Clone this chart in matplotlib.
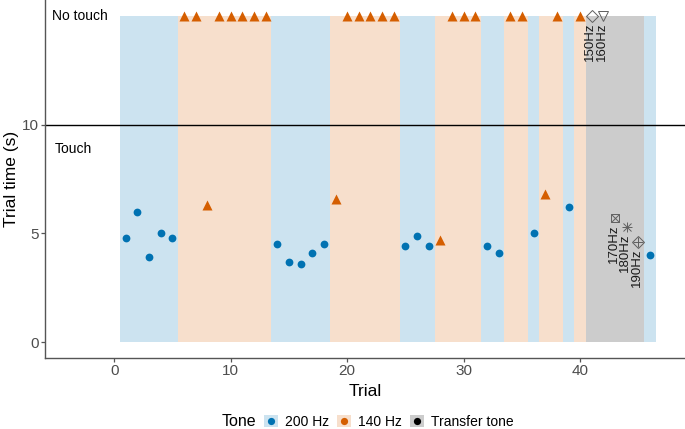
"""Trial time per trial, shaded by tone, with transfer-tone probes."""
import matplotlib
matplotlib.use("Agg")
import matplotlib.pyplot as plt
from matplotlib.lines import Line2D
from matplotlib.patches import Patch

plt.rcParams["font.family"] = ["Liberation Sans", "DejaVu Sans"]

# tone per trial: "200", "140" or "T" (transfer tone)
TONE = (["200"] * 5 + ["140"] * 8 + ["200"] * 5 + ["140"] * 6 + ["200"] * 3
        + ["140"] * 4 + ["200"] * 2 + ["140"] * 2 + ["200"] + ["140"] * 2
        + ["200"] + ["140"] + ["T"] * 5 + ["200"])
TRIALS = list(range(1, len(TONE) + 1))
# trial time in s, None = no touch
TIME = [4.8, 6.0, 3.9, 5.0, 4.8,
        None, None, 6.3, None, None, None, None, None,
        4.5, 3.7, 3.6, 4.1, 4.5,
        6.6, None, None, None, None, None,
        4.4, 4.9, 4.4,
        4.7, None, None, None,
        4.4, 4.1,
        None, None,
        5.0,
        6.8, None,
        6.2,
        None,
        None, None, 5.7, 5.3, 4.6,
        4.0]
TRANSFER_LABELS = ["150Hz", "160Hz", "170Hz", "180Hz", "190Hz"]

NO_TOUCH = 15
CUTOFF = 10
BAND = {"200": "#cce3f0", "140": "#f7dfcc", "T": "#cccccc"}
POINT = {"200": "#0072b2", "140": "#d55e00", "T": "black"}
MARK_GRAY = "#606060"

fig = plt.figure(figsize=(6.85, 4.29), dpi=100)
ax = fig.add_axes([45 / 685, 71 / 429, 640 / 685, 358 / 429])

# background bands
ax.bar(TRIALS, NO_TOUCH, width=1.0, bottom=0,
       color=[BAND[t] for t in TONE], linewidth=0, zorder=0)
ax.axhline(CUTOFF, color="black", lw=1.0, zorder=2)

ys = [NO_TOUCH if v is None else v for v in TIME]
for tone, marker, ms in [("200", "o", 5.6), ("140", "^", 7)]:
    xs = [x for x, t in zip(TRIALS, TONE) if t == tone]
    yy = [y for y, t in zip(ys, TONE) if t == tone]
    ax.plot(xs, yy, ls="none", marker=marker, ms=ms, color=POINT[tone],
            mec="none", zorder=3)

# transfer tones: R shapes 5..9 built from overlaid markers
shapes = [[("D", 6)], [("v", 7)], [("s", 6), ("x", 6)],
          [("+", 7), ("x", 6)], [("D", 6.5), ("+", 6.5)]]
tx = [x for x, t in zip(TRIALS, TONE) if t == "T"]
ty = [y for y, t in zip(ys, TONE) if t == "T"]
for x, y, lab, parts in zip(tx, ty, TRANSFER_LABELS, shapes):
    for m, ms in parts:
        ax.plot(x, y, ls="none", marker=m, ms=ms, mfc="none", mec=MARK_GRAY,
                mew=0.7, zorder=3)
    ax.annotate(lab, (x, y), xytext=(-1, -4.5), textcoords="offset points",
                rotation=90, ha="center", va="top", fontsize=9.5,
                color="#1a1a1a", zorder=4)

ax.text(-5.3, NO_TOUCH, "No touch", fontsize=10, va="center", ha="left")
ax.text(-5.1, 8.9, "Touch", fontsize=10, va="center", ha="left")

ax.set_xlim(-5.94, 49.0)
ax.set_ylim(-0.73, 15.73)
ax.set_xticks([0, 10, 20, 30, 40])
ax.set_yticks([0, 5, 10])
for s in ["top", "right"]:
    ax.spines[s].set_visible(False)
for s in ["left", "bottom"]:
    ax.spines[s].set_color("#555555")
    ax.spines[s].set_linewidth(1.0)
ax.tick_params(colors="#555555", labelcolor="#4d4d4d", labelsize=11,
               length=3, width=0.9, pad=1.5)
ax.set_xlabel("Trial", fontsize=12.5, labelpad=4)
ax.set_ylabel("Trial time (s)", fontsize=12.5, labelpad=2)

# legend
handles = [(Patch(facecolor=BAND[t], edgecolor="none"),
            Line2D([], [], ls="none", marker="o", ms=5.2, color=POINT[t], mec="none"))
           for t in ["200", "140", "T"]]
fig.text(222 / 685, 1 - 422 / 429, "Tone", fontsize=11.5, va="center", ha="left")
fig.legend(handles, ["200 Hz", "140 Hz", "Transfer tone"], ncol=3,
           loc="center left", bbox_to_anchor=(264 / 685, 1 - 422 / 429),
           frameon=False, fontsize=10, handlelength=1.0, handleheight=1.0,
           handletextpad=0.5, columnspacing=0.6, borderpad=0, borderaxespad=0)

fig.savefig("out.png", dpi=100)
